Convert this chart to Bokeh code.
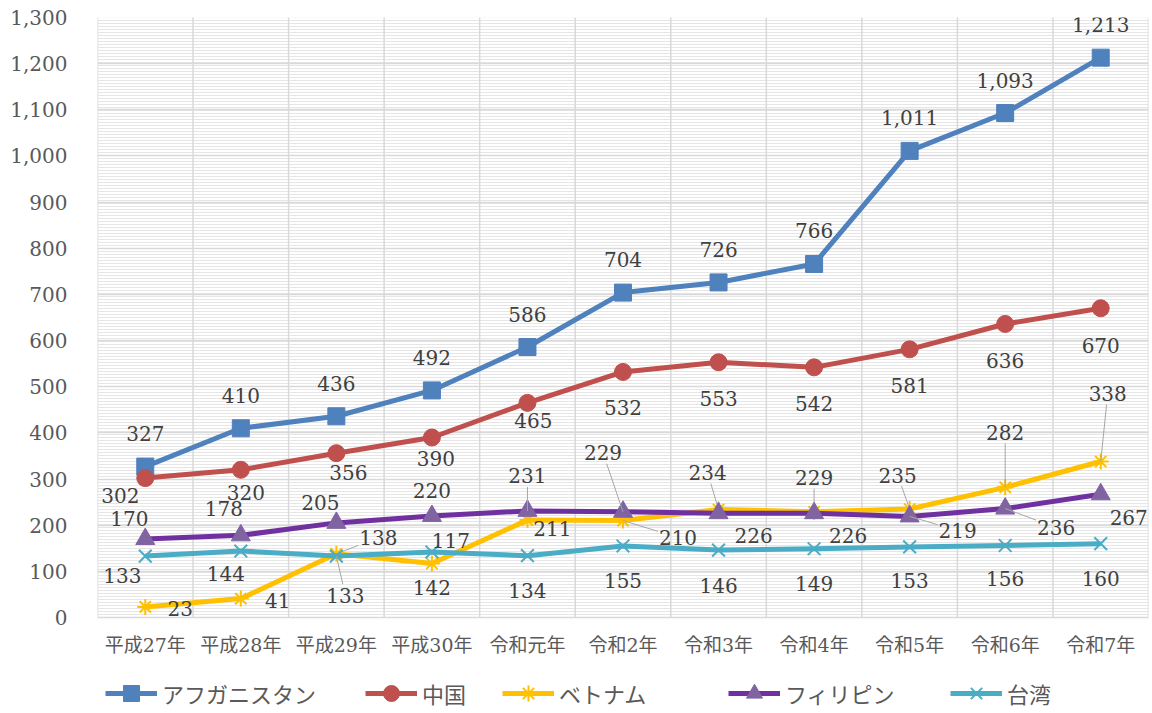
from bokeh.plotting import figure
from bokeh.models import (Range1d, FixedTicker, NumeralTickFormatter, BoxAnnotation,
                          ColumnDataSource, Legend, LegendItem)
from bokeh.core.properties import value
from bokeh.embed import file_html
from bokeh.resources import INLINE

# ---------------- data ----------------
categories = ["平成27年", "平成28年", "平成29年", "平成30年", "令和元年", "令和2年",
              "令和3年", "令和4年", "令和5年", "令和6年", "令和7年"]
afghanistan = [327, 410, 436, 492, 586, 704, 726, 766, 1011, 1093, 1213]
china = [302, 320, 356, 390, 465, 532, 553, 542, 581, 636, 670]
vietnam = [23, 41, 138, 117, 211, 210, 234, 229, 235, 282, 338]
philippines = [170, 178, 205, 220, 231, 229, 226, 226, 219, 236, 267]
taiwan = [133, 144, 133, 142, 134, 155, 146, 149, 153, 156, 160]
y_ticks = list(range(0, 1301, 100))
YMAX = 1300

# ---------------- label placement (screen px, +y down) ----------------
off_afg = [(0, -33)] * 11
off_chn = [(-25, 17), (5, 23), (12, 19), (4, 21), (6, 18), (0, 36), (0, 36), (0, 36),
           (0, 36), (0, 37), (0, 37)]
off_vnm = [(35, 2), (37, 2), (42, -16), (19, -23), (25, 8), (55, 17), (-11, -37),
           (0, -34), (-12, -34), (0, -55), (7, -68)]
lead_vnm = [0, 0, 1, 0, 0, 1, 1, 1, 1, 1, 1]
off_phl = [(-16, -21), (-17, -27), (-16, -20), (0, -25), (0, -35), (-20, -59), (35, 22),
           (34, 22), (48, 14), (51, 19), (28, 23)]
lead_phl = [0, 0, 0, 0, 1, 1, 0, 0, 1, 1, 0]
off_twn = [(-23, 19), (-15, 22), (9, 39), (0, 36), (0, 35), (0, 35), (0, 35), (0, 35),
           (0, 34), (0, 33), (0, 35)]
lead_twn = [0, 0, 1, 0, 0, 0, 0, 0, 0, 0, 0]

# ---------------- layout ----------------
W, H = 1150, 713
ML, MR, MT = 97, 2, 17
AREA_BOTTOM = 617           # page y of value 0
FW = W - ML - MR
px_x = FW / len(categories)
px_y = (AREA_BOTTOM - MT) / YMAX
ymin = -(H - AREA_BOTTOM) / px_y

xs = [i + 0.5 for i in range(len(categories))]

p = figure(width=W, height=H, output_backend="svg", toolbar_location=None,
           x_range=Range1d(0, len(categories)), y_range=Range1d(ymin, YMAX),
           min_border_left=ML, min_border_right=MR, min_border_top=MT, min_border_bottom=0)
p.background_fill_color = "white"
p.border_fill_color = "white"
p.outline_line_color = None
p.xaxis.visible = False
p.xgrid.visible = False

# hatched plot area background
p.add_layout(BoxAnnotation(left=0, right=len(categories), bottom=0, top=YMAX,
                           fill_color="white", fill_alpha=1, line_color=None,
                           hatch_pattern="horizontal_line", hatch_scale=3, hatch_weight=1,
                           hatch_color="#E6E6E6", level="image"))

# y axis
p.yaxis.ticker = FixedTicker(ticks=y_ticks)
p.yaxis.formatter = NumeralTickFormatter(format="0,0")
p.yaxis.axis_line_color = None
p.yaxis.major_tick_line_color = None
p.yaxis.minor_tick_line_color = None
p.yaxis.major_label_standoff = 24
p.yaxis.major_label_text_font = "DejaVu Serif"
p.yaxis.major_label_text_font_size = "20px"
p.yaxis.major_label_text_color = "#595959"

p.ygrid.ticker = FixedTicker(ticks=y_ticks)
p.ygrid.grid_line_color = "#D9D9D9"
p.ygrid.grid_line_width = 1.5

# vertical grid lines at category boundaries (plot area only)
bounds = list(range(len(categories) + 1))
vg = p.segment(bounds, [0] * len(bounds), bounds, [YMAX] * len(bounds),
               line_color="#D9D9D9", line_width=1.5)
vg.level = "underlay"

# category labels
p.text(xs, [0] * len(xs), text=categories, y_offset=27,
       text_align="center", text_baseline="middle",
       text_font=value("'DejaVu Serif', 'Noto Sans CJK JP'"), text_font_size="19px",
       text_color="#595959")

series = [
    ("アフガニスタン", afghanistan, "#4F81BD", "#4F81BD", "square", 17, off_afg, [0] * 11),
    ("中国", china, "#C0504D", "#C0504D", "circle", 17, off_chn, [0] * 11),
    ("ベトナム", vietnam, "#FFC000", "#FFC000", "asterisk", 16, off_vnm, lead_vnm),
    ("フィリピン", philippines, "#7030A0", "#8064A2", "triangle", 19, off_phl, lead_phl),
    ("台湾", taiwan, "#4BACC6", "#4BACC6", "x", 18, off_twn, lead_twn),
]

legend_x = [105, 365, 502, 728, 950]
LEG_H = 40
LEG_CY = H - LEG_H // 2

label_sources = []
for (name, vals, lcol, mcol, marker, size, offs, leads), lx in zip(series, legend_x):
    lr = p.line(xs, vals, line_color=lcol, line_width=5, line_join="round")
    if marker in ("asterisk", "x"):
        sr = p.scatter(xs, vals, marker=marker, size=size, line_color=mcol, line_width=2,
                       fill_color=None)
    else:
        sr = p.scatter(xs, vals, marker=marker, size=size, fill_color=mcol, line_color=mcol)
    # leader lines
    x0s, y0s, x1s, y1s = [], [], [], []
    for x, v, (dx, dy), ld in zip(xs, vals, offs, leads):
        if not ld:
            continue
        hw, hh = 20.0, 11.0
        fx = hw / abs(dx) if dx else 1e9
        fy = hh / abs(dy) if dy else 1e9
        t = max(0.0, 1 - min(fx, fy))
        x0s.append(x)
        y0s.append(v)
        x1s.append(x + dx * t / px_x)
        y1s.append(v - dy * t / px_y)
    if x0s:
        p.segment(x0s, y0s, x1s, y1s, line_color="#A6A6A6", line_width=1)
    label_sources.append(ColumnDataSource(dict(
        x=xs, y=vals, t=[f"{v:,}" for v in vals],
        dx=[o[0] for o in offs], dy=[o[1] for o in offs])))
    lg = Legend(items=[LegendItem(label=name, renderers=[lr, sr])],
                location=(lx - ML, 0), orientation="horizontal",
                border_line_color=None, background_fill_alpha=0,
                glyph_width=52, glyph_height=LEG_H, label_standoff=5, padding=0, margin=0,
                label_text_font="Noto Sans CJK JP", label_text_font_size="22px",
                label_text_color="#595959")
    p.add_layout(lg, "center")

for src in label_sources:
    p.text("x", "y", text="t", x_offset="dx", y_offset="dy", source=src,
           text_align="center", text_baseline="middle",
           text_font=value("DejaVu Serif"), text_font_size="20px", text_color="#404040")

open("out.html", "w").write(file_html(p, INLINE))
